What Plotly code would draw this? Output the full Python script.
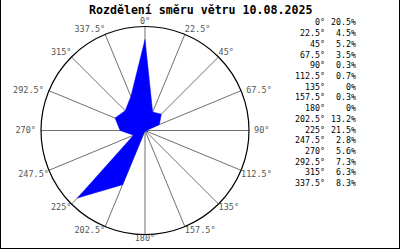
import plotly.graph_objects as go

directions = [0, 22.5, 45, 67.5, 90, 112.5, 135, 157.5, 180, 202.5, 225, 247.5, 270, 292.5, 315, 337.5]
dir_labels = ["0°", "22.5°", "45°", "67.5°", "90°", "112.5°", "135°", "157.5°", "180°",
              "202.5°", "225°", "247.5°", "270°", "292.5°", "315°", "337.5°"]
percent = [20.5, 4.5, 5.2, 3.5, 0.3, 0.7, 0, 0.3, 0, 13.2, 21.5, 2.8, 5.6, 7.3, 6.3, 8.3]
pct_labels = ["20.5%", "4.5%", "5.2%", "3.5%", "0.3%", "0.7%", "0%", "0.3%", "0%",
              "13.2%", "21.5%", "2.8%", "5.6%", "7.3%", "6.3%", "8.3%"]
title = "Rozdělení směru větru 10.08.2025"

W, H = 400, 250
MONO = "DejaVu Sans Mono, Liberation Mono, monospace"
R_MAX = 23.4
NBSP = "\u00a0"


def label_pos(a):
    if a == 0:
        return "top center"
    if a == 180:
        return "bottom center"
    if 0 < a < 60:
        return "top right"
    if 60 <= a <= 100:
        return "middle right"
    if 100 < a < 180:
        return "bottom right"
    if 180 < a < 260:
        return "bottom left"
    if 260 <= a <= 300:
        return "middle left"
    return "top left"


def label_text(a, s):
    p = label_pos(a)
    if p == "middle right":
        return NBSP + s
    if p == "middle left":
        return s + NBSP
    return s


fig = go.Figure()
fig.add_trace(go.Scatterpolar(
    r=percent + [percent[0]],
    theta=directions + [directions[0]],
    mode="lines",
    fill="toself",
    fillcolor="#0000FF",
    line=dict(color="#0000FF", width=0.5),
    hoverinfo="skip",
))
# direction labels around the outer circle
fig.add_trace(go.Scatterpolar(
    r=[R_MAX] * len(directions),
    theta=directions,
    mode="text",
    text=[label_text(a, s) for a, s in zip(directions, dir_labels)],
    textposition=[label_pos(a) for a in directions],
    textfont=dict(family=MONO, size=8.5, color="#555555"),
    cliponaxis=False,
    hoverinfo="skip",
))

fig.update_layout(
    width=W, height=H,
    margin=dict(l=0, r=0, t=0, b=0),
    paper_bgcolor="white",
    showlegend=False,
    polar=dict(
        domain=dict(x=[41 / W, 249 / W], y=[1 - 234.5 / H, 1 - 26.5 / H]),
        bgcolor="white",
        radialaxis=dict(range=[0, R_MAX], visible=False, showgrid=False),
        angularaxis=dict(
            rotation=90, direction="clockwise",
            tickmode="array", tickvals=directions, ticktext=dir_labels,
            showticklabels=False,
            showgrid=True, gridcolor="#707070", gridwidth=1,
            showline=True, linecolor="black", linewidth=1.2,
            ticks="",
        ),
    ),
)

annotations = [dict(
    text="<b>" + title + "</b>", x=200 / W, y=1 - 9.5 / H, xref="paper", yref="paper",
    xanchor="center", yanchor="middle", showarrow=False,
    font=dict(family=MONO, size=11.6, color="black"),
)]
y0, dy = 22.5, 10.7
for i, (dl, pl) in enumerate(zip(dir_labels, pct_labels)):
    yy = 1 - (y0 + i * dy) / H
    annotations.append(dict(text=dl, x=327 / W, y=yy, xref="paper", yref="paper",
                            xanchor="right", yanchor="middle", showarrow=False,
                            font=dict(family=MONO, size=8.3, color="black")))
    annotations.append(dict(text=pl, x=358 / W, y=yy, xref="paper", yref="paper",
                            xanchor="right", yanchor="middle", showarrow=False,
                            font=dict(family=MONO, size=8.3, color="black")))
fig.update_layout(annotations=annotations)

fig.update_layout(shapes=[
    dict(type="line", xref="paper", yref="paper", x0=0.5 / W, x1=0.5 / W, y0=1 - 248.5 / H, y1=1,
         line=dict(color="black", width=1)),
    dict(type="line", xref="paper", yref="paper", x0=399.5 / W, x1=399.5 / W, y0=1 - 248.5 / H, y1=1,
         line=dict(color="black", width=1)),
    dict(type="line", xref="paper", yref="paper", x0=0, x1=1, y0=1 - 248.5 / H, y1=1 - 248.5 / H,
         line=dict(color="black", width=1)),
])

fig.write_html("out.html")
